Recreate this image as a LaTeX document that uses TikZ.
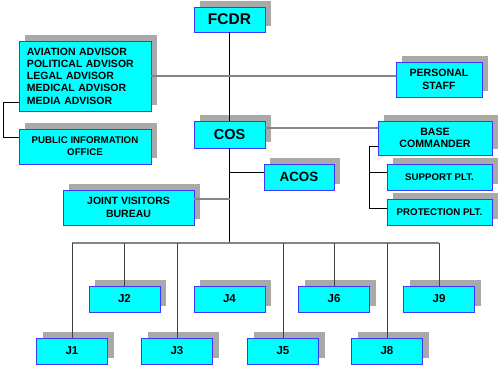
\documentclass[tikz,border=0pt]{standalone}
\usepackage{fontspec}
\setmainfont{Liberation Sans}
\usetikzlibrary{shadows}
\definecolor{boxcyan}{HTML}{00FFFF}
\definecolor{boxedge}{HTML}{3A3AFF}
\definecolor{shadowgray}{HTML}{A9A9A9}
\definecolor{linegray}{HTML}{858585}
\newcommand{\bsz}[2]{\fontsize{#1}{#2}\selectfont\bfseries}
\tikzset{
  orgbox/.style={draw=boxedge, line width=0.8pt, fill=boxcyan,
    inner sep=0pt, outer sep=0pt, align=center,
    drop shadow={shadow xshift=6pt, shadow yshift=6pt,
      fill=shadowgray, opacity=1}},
  thinlink/.style={black, line width=0.8pt},
  thicklink/.style={linegray, line width=1.7pt},
  droplink/.style={black!75, line width=0.9pt}
}

\begin{document}
\begin{tikzpicture}[x=1pt,y=-1pt]
  % Task force organisation chart, 1 unit = 1 px of the sheet
  \useasboundingbox (0,0) rectangle (499,365);
  % --- Command group ---
  \node[orgbox, minimum width=71pt, minimum height=25pt, font=\bsz{15.5}{16}]
    (fcdr) at (229.5,19.5) {FCDR};
  \node[orgbox, minimum width=71pt, minimum height=27pt, font=\bsz{14.5}{15}]
    (cos) at (229.5,134.5) {COS};
  \node[orgbox, minimum width=70pt, minimum height=26pt, font=\bsz{13.4}{14}]
    (acos) at (299,177) {ACOS};
  % --- Special staff ---
  \node[orgbox, minimum width=132pt, minimum height=70pt, text width=116pt,
    align=left, font=\bsz{10.5}{12.3}]
    (adv) at (85,76) {AVIATION ADVISOR\\POLITICAL ADVISOR\\LEGAL ADVISOR\\%
      MEDICAL ADVISOR\\MEDIA ADVISOR};
  \node[orgbox, minimum width=132pt, minimum height=35pt, font=\bsz{9.7}{12}]
    (pio) at (85,146.5) {PUBLIC INFORMATION\\OFFICE};
  \node[orgbox, minimum width=86pt, minimum height=35pt, font=\bsz{10.6}{12.5}]
    (pers) at (439,79.5) {PERSONAL\\STAFF};
  \node[orgbox, minimum width=131pt, minimum height=35pt, font=\bsz{10.5}{12.3}]
    (jvb) at (128.5,207.5) {JOINT VISITORS\\BUREAU};
  % --- Base commander and platoons ---
  \node[orgbox, minimum width=114pt, minimum height=34pt, font=\bsz{10.6}{12.5}]
    (base) at (435,138) {BASE\\COMMANDER};
  \node[orgbox, minimum width=105pt, minimum height=26pt, font=\bsz{9.7}{12}]
    (supp) at (439.5,177) {SUPPORT PLT.};
  \node[orgbox, minimum width=105pt, minimum height=26pt, font=\bsz{9.7}{12}]
    (prot) at (439.5,212) {PROTECTION PLT.};
  % --- J staff, two staggered rows ---
  \foreach \n/\x in {2/124.5,4/229.5,6/334,9/439}
    \node[orgbox, minimum width=71pt, minimum height=26pt, font=\bsz{11.5}{12}]
      (j\n) at (\x,299) {J\n};
  \foreach \n/\x in {1/72,3/177,5/283,8/387}
    \node[orgbox, minimum width=71pt, minimum height=26pt, font=\bsz{11.5}{12}]
      (j\n) at (\x,351) {J\n};
  % --- Connectors ---
  \coordinate (busL) at (j1.north |- 0,243);
  \coordinate (busR) at (j9.north |- 0,243);
  \coordinate (trunk) at (cos.south |- busL);
  \coordinate (acosJ) at (cos.south |- 0,172);
  \coordinate (cosR) at ([yshift=6.5pt]cos.east);
  \coordinate (jvbR) at ([yshift=8.5pt]jvb.east);
  \coordinate (advL) at ([yshift=-26pt]adv.west);
  \coordinate (pioL) at ([yshift=9.5pt]pio.west);
  \coordinate (baseL) at ([yshift=-8pt]base.west);
  \coordinate (suppL) at ([yshift=5pt]supp.west);
  \coordinate (protL) at ([yshift=4pt]prot.west);
  \draw[thinlink] (fcdr) -- (cos);
  \draw[thinlink] (cos) -- (trunk);
  \draw[thicklink] (adv.east) -- (adv.east -| pers.west);
  \draw[thinlink] (advL) -- ++(-16,0) |- (pioL);
  \draw[thicklink] (cosR) -- (cosR -| base.west);
  \draw[thinlink] (acosJ) -- (acosJ -| acos.west);
  \draw[thicklink] (jvbR) -- (jvbR -| trunk);
  \draw[thinlink] (baseL) -- ++(-9,0) |- (protL);
  \draw[thinlink] (suppL) -- ++(-18,0);
  \draw[thicklink] (busL) -- (busR);
  \foreach \n in {1,2,3,5,6,8,9}
    \draw[droplink] (j\n.north |- busL) -- (j\n.north);
\end{tikzpicture}
\end{document}
